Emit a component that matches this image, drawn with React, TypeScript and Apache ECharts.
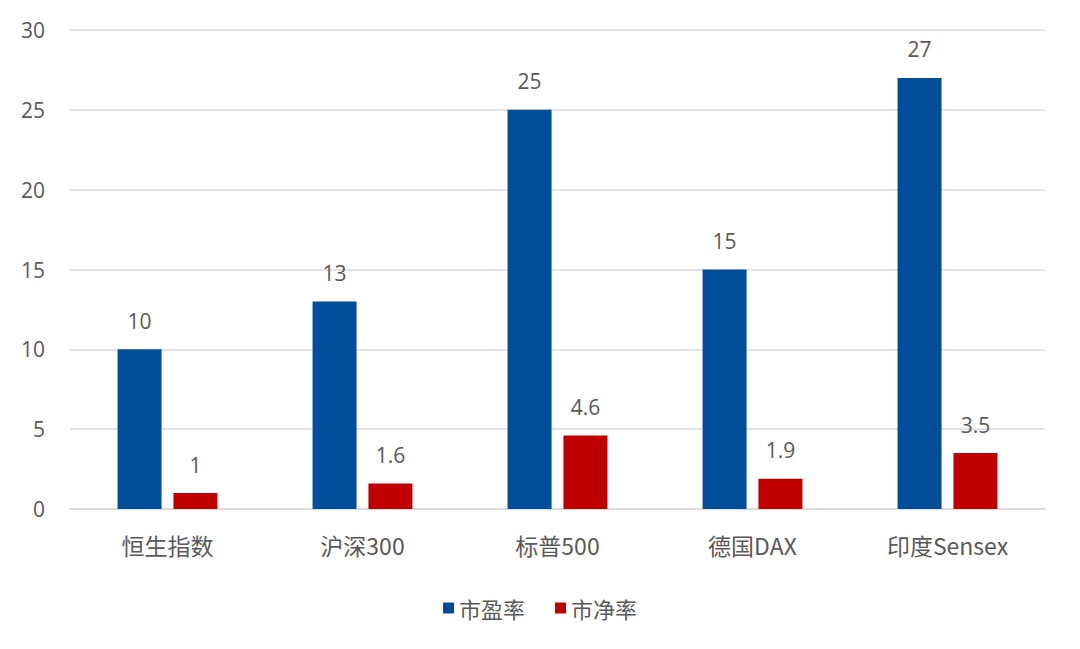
import React, { useEffect, useRef } from "react";
import * as echarts from "echarts";

const categories = ["恒生指数", "沪深300", "标普500", "德国DAX", "印度Sensex"];
const peValues = [10, 13, 25, 15, 27];
const pbValues = [1, 1.6, 4.6, 1.9, 3.5];
const seriesNames = ["市盈率", "市净率"];

const FONT = "'Noto Sans CJK SC', 'Open Sans', sans-serif";
const NUMFONT = "'Open Sans', 'Noto Sans', sans-serif";

export default function App() {
  const ref = useRef<HTMLDivElement>(null);
  useEffect(() => {
    document.body.style.margin = "0";
    const chart = echarts.init(ref.current!, null, { renderer: "svg" });
    const labelStyle = {
      show: true,
      position: "top",
      distance: 18,
      color: "#595959",
      fontSize: 21,
      fontFamily: NUMFONT,
    };
    chart.setOption({
      animation: false,
      textStyle: { fontFamily: FONT },
      grid: { left: 70, right: 35, top: 30, bottom: 140 },
      legend: {
        data: seriesNames,
        left: "center",
        top: 592,
        itemWidth: 11,
        itemHeight: 11,
        itemGap: 30,
        icon: "rect",
        textStyle: { color: "#595959", fontSize: 22, fontFamily: FONT },
      },
      xAxis: {
        type: "category",
        data: categories,
        axisLine: { show: true, lineStyle: { color: "#d9d9d9", width: 1.5 } },
        axisTick: { show: false },
        axisLabel: { color: "#595959", fontSize: 23, margin: 24, fontFamily: FONT },
      },
      yAxis: {
        type: "value",
        min: 0,
        max: 30,
        interval: 5,
        axisLine: { show: false },
        axisTick: { show: false },
        axisLabel: { color: "#595959", fontSize: 21, margin: 25, fontFamily: NUMFONT },
        splitLine: { lineStyle: { color: "#d9d9d9", width: 1.5 } },
      },
      series: [
        {
          name: seriesNames[0],
          type: "bar",
          data: peValues,
          barWidth: 44,
          barGap: "27%",
          itemStyle: { color: "#004E9A" },
          label: labelStyle,
        },
        {
          name: seriesNames[1],
          type: "bar",
          data: pbValues,
          barWidth: 44,
          barGap: "27%",
          itemStyle: { color: "#C00000" },
          label: labelStyle,
        },
      ],
    });
    return () => chart.dispose();
  }, []);
  return <div ref={ref} style={{ width: 1080, height: 649 }} />;
}
